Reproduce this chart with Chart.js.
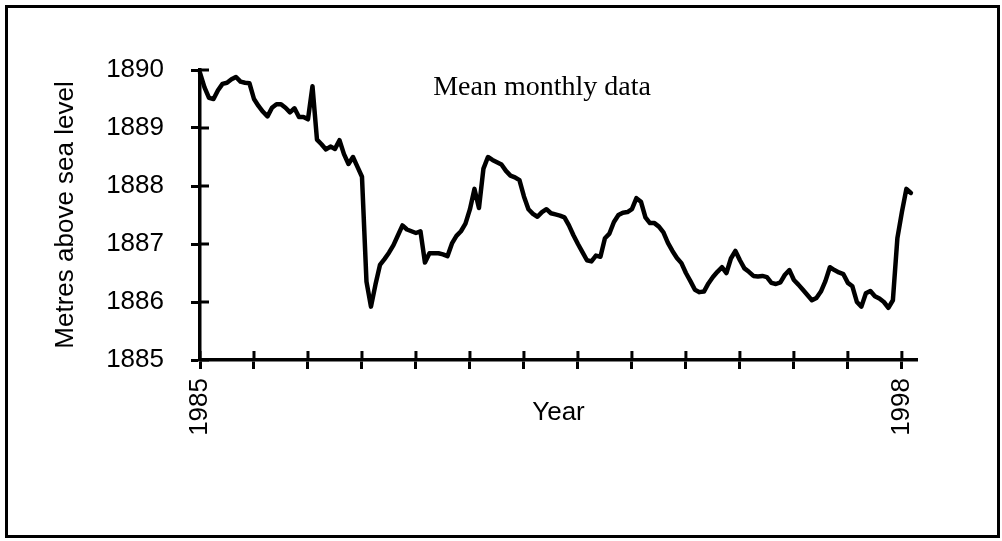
<!DOCTYPE html>
<html>
<head>
<meta charset="utf-8">
<script src="https://cdn.jsdelivr.net/npm/chart.js@4"></script>
<style>
  body { margin: 0; background: #fff; }
  #wrap { position: relative; width: 1002px; height: 541px; }
  #frame { position: absolute; left: 5px; top: 5px; width: 989px; height: 527px; border: 3px solid #000; pointer-events: none; }
</style>
</head>
<body>
<div id="wrap">
  <canvas id="myChart" width="1002" height="541"></canvas>
  <div id="frame"></div>
</div>
<script>
// monthly lake level, Jan 1985 onwards (metres above sea level)
const startYear = 1985;
const levels = [
  1889.95, 1889.70, 1889.52, 1889.50, 1889.65, 1889.76, 1889.78, 1889.84, 1889.88, 1889.80, 1889.78, 1889.77,
  1889.50, 1889.38, 1889.28, 1889.20, 1889.35, 1889.41, 1889.41, 1889.35, 1889.27, 1889.34, 1889.19, 1889.19,
  1889.15, 1889.72, 1888.80, 1888.72, 1888.63, 1888.68, 1888.64, 1888.79, 1888.55, 1888.38, 1888.50, 1888.33,
  1888.16, 1886.35, 1885.92, 1886.30, 1886.64, 1886.74, 1886.85, 1886.98, 1887.15, 1887.32, 1887.25, 1887.22,
  1887.19, 1887.22, 1886.68, 1886.84, 1886.84, 1886.84, 1886.82, 1886.79, 1887.01, 1887.14, 1887.22, 1887.35,
  1887.60, 1887.95, 1887.62, 1888.30, 1888.50, 1888.45, 1888.41, 1888.37, 1888.26, 1888.18, 1888.15, 1888.10,
  1887.82, 1887.60, 1887.52, 1887.47, 1887.55, 1887.60, 1887.53, 1887.51, 1887.49, 1887.46, 1887.32, 1887.15,
  1887.00, 1886.86, 1886.72, 1886.70, 1886.80, 1886.78, 1887.10, 1887.18, 1887.38, 1887.50, 1887.54, 1887.55,
  1887.60, 1887.79, 1887.73, 1887.46, 1887.36, 1887.36, 1887.30, 1887.20, 1887.02, 1886.88, 1886.76, 1886.67,
  1886.50, 1886.36, 1886.21, 1886.17, 1886.18, 1886.32, 1886.43, 1886.52, 1886.60, 1886.50, 1886.75, 1886.88,
  1886.72, 1886.58, 1886.52, 1886.45, 1886.44, 1886.45, 1886.43, 1886.33, 1886.31, 1886.34, 1886.47, 1886.55,
  1886.38, 1886.30, 1886.21, 1886.12, 1886.03, 1886.07, 1886.18, 1886.36, 1886.60, 1886.55, 1886.51, 1886.48,
  1886.33, 1886.27, 1886.00, 1885.92, 1886.15, 1886.19, 1886.10, 1886.06, 1886.00, 1885.90, 1886.03, 1887.10,
  1887.55, 1887.95, 1887.88
];
const labelledYears = [1985, 1998];
const yTicks = [1885, 1886, 1887, 1888, 1889, 1890];

let points = levels.map((v, i) => ({ x: startYear + i / 12, y: v }));

const sans = '"Liberation Sans", Arial, sans-serif';

// tick marks that cross the axis (chart.js only draws the outside half)
const crossTicks = {
    id: 'crossTicks',
    afterDatasetsDraw(chart) {
        const ctx = chart.ctx;
        const area = chart.chartArea;
        const xs = chart.scales.x;
        const ys = chart.scales.y;
        ctx.save();
        ctx.strokeStyle = '#000';
        ctx.lineWidth = 3;
        for (let i = 0; i < xs.ticks.length; i++) {
            let px = xs.getPixelForTick(i);
            ctx.beginPath();
            ctx.moveTo(px, area.bottom);
            ctx.lineTo(px, area.bottom - 9);
            ctx.stroke();
        }
        for (let i = 0; i < ys.ticks.length; i++) {
            let py = ys.getPixelForTick(i);
            ctx.beginPath();
            ctx.moveTo(area.left, py);
            ctx.lineTo(area.left + 9, py);
            ctx.stroke();
        }
        ctx.font = '28px "Liberation Serif", "Times New Roman", serif';
        ctx.fillStyle = '#000';
        ctx.textAlign = 'center';
        ctx.textBaseline = 'middle';
        ctx.fillText('Mean monthly data', area.left + 342, area.top + 18);
        ctx.restore();
    }
};

new Chart("myChart", {
    type: "line",
    data: {
        datasets: [{
            label: "Mean monthly data",
            data: points,
            borderColor: '#000',
            borderWidth: 4.5,
            borderJoinStyle: 'round',
            borderCapStyle: 'round',
            pointRadius: 0,
            tension: 0,
            fill: false,
            clip: 4
        }]
    },
    options: {
        responsive: false,
        animation: false,
        devicePixelRatio: 1,
        layout: { padding: { left: 40, right: 85, top: 70, bottom: 10 } },
        plugins: { legend: { display: false }, tooltip: { enabled: false } },
        scales: {
            x: {
                type: 'linear',
                min: 1985,
                max: 1998.28,
                afterFit: (scale) => { scale.height = 171; },
                grid: { drawOnChartArea: false, tickLength: 9, tickWidth: 3, tickColor: '#000' },
                border: { color: '#000', width: 3.5 },
                ticks: {
                    stepSize: 1,
                    includeBounds: false,
                    autoSkip: false,
                    minRotation: 90,
                    maxRotation: 90,
                    padding: 9,
                    color: '#000',
                    font: { family: sans, size: 26 },
                    callback: (v) => labelledYears.includes(v) ? String(v) : ''
                },
                title: {
                    display: true,
                    text: 'Year',
                    color: '#000',
                    font: { family: sans, size: 26, lineHeight: 1.2 },
                    padding: { top: 0, bottom: 103 }
                }
            },
            y: {
                min: 1885,
                max: 1890,
                afterFit: (scale) => { scale.width = 160; },
                grid: { drawOnChartArea: false, tickLength: 9, tickWidth: 3, tickColor: '#000' },
                border: { color: '#000', width: 3.5 },
                afterBuildTicks: (scale) => { scale.ticks = yTicks.map(v => ({ value: v })); },
                ticks: {
                    padding: 27,
                    color: '#000',
                    font: { family: sans, size: 26 },
                    callback: (v) => String(v)
                },
                title: {
                    display: true,
                    text: 'Metres above sea level',
                    color: '#000',
                    font: { family: sans, size: 26, lineHeight: 1.2 },
                    padding: { top: 10, bottom: 0 }
                }
            }
        }
    },
    plugins: [crossTicks]
});
</script>
</body>
</html>
